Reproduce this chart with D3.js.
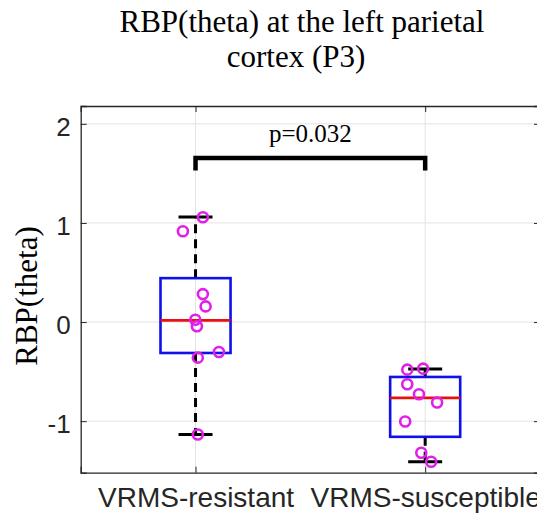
<!DOCTYPE html>
<html>
<head>
<meta charset="utf-8">
<script src="https://cdn.jsdelivr.net/npm/d3@7"></script>
<style>
  body { margin: 0; background: #fff; }
  svg { display: block; }
</style>
</head>
<body>
<script>
// groups and box statistics
const groups = ["VRMS-resistant", "VRMS-susceptible"];
const q1 = [-0.312, -1.158];
const median = [0.017, -0.765];
const q3 = [0.443, -0.554];
const whiskerLow = [-1.134, -1.41];
const whiskerHigh = [1.06, -0.473];

// individual subjects (value, x jitter around group)
const resistantValues = [1.057, 0.916, 0.282, 0.158, 0.024, -0.043, -0.302, -0.359, -1.134];
const resistantJitter = [0.032, -0.055, 0.032, 0.044, -0.001, 0.006, 0.102, 0.010, 0.010];
const susceptibleValues = [-0.480, -0.470, -0.627, -0.728, -0.812, -1.003, -1.319, -1.41];
const susceptibleJitter = [-0.078, -0.009, -0.078, -0.027, 0.052, -0.087, -0.017, 0.026];

const yTicks = [-1, 0, 1, 2];
const pLabel = "p=0.032";
const bracketTop = 1.655, bracketEnd = 1.53;

const W = 537, H = 515;
const x = d3.scaleLinear().domain([0.5, 2.5]).range([80.7, 540]);
const y = d3.scaleLinear().domain([-1.52, 2.18]).range([472.7, 106]);

const svg = d3.select('body').append('svg')
    .attr('width', W)
    .attr('height', H);

// grid
svg.append('g').selectAll('line')
    .data(yTicks)
    .enter().append('line')
    .attr('x1', x(0.5)).attr('x2', x(2.5))
    .attr('y1', d => y(d)).attr('y2', d => y(d))
    .attr('stroke', '#e3e3e3').attr('stroke-width', 1);
svg.append('g').selectAll('line')
    .data([1, 2])
    .enter().append('line')
    .attr('x1', d => x(d)).attr('x2', d => x(d))
    .attr('y1', y.range()[0]).attr('y2', y.range()[1])
    .attr('stroke', '#e3e3e3').attr('stroke-width', 1);

// axes
const yAxis = d3.axisLeft(y).tickValues(yTicks).tickSize(-6).tickPadding(10).tickFormat(d => String(d));
const xAxis = d3.axisBottom(x).tickValues([1, 2]).tickSize(-6).tickPadding(14)
    .tickFormat(d => groups[d - 1]);

const yAxisGroup = svg.append('g')
    .attr('transform', `translate(${x(0.5)},0)`)
    .call(yAxis);
const xAxisGroup = svg.append('g')
    .attr('transform', `translate(0,${y(-1.52)})`)
    .call(xAxis);
svg.append('g')
    .attr('transform', `translate(0,${y(2.18)})`)
    .call(d3.axisTop(x).tickValues([1, 2]).tickSize(-6).tickFormat(''));
svg.append('g')
    .attr('transform', `translate(${x(2.5)},0)`)
    .call(d3.axisRight(y).tickValues(yTicks).tickSize(-6).tickFormat(''));

svg.selectAll('.domain').attr('stroke', '#262626').attr('stroke-width', 1.3);
svg.selectAll('.tick line').attr('stroke', '#262626');
yAxisGroup.selectAll('text')
    .attr('font-family', 'Liberation Sans, Arial, sans-serif')
    .attr('font-size', 26).attr('fill', '#262626').attr('dy', '0.45em');
xAxisGroup.selectAll('text')
    .attr('font-family', 'Liberation Sans, Arial, sans-serif')
    .attr('font-size', 28).attr('fill', '#262626');

// boxes
const idx = [0, 1];
const boxW = 0.305, capW = 0.148;
const boxes = svg.append('g');
// whiskers
boxes.selectAll('.wl').data(idx).enter().append('line')
    .attr('x1', i => x(i + 1)).attr('x2', i => x(i + 1))
    .attr('y1', i => y(q1[i])).attr('y2', i => y(whiskerLow[i]))
    .attr('stroke', '#000').attr('stroke-width', 3).attr('stroke-dasharray', '9,6');
boxes.selectAll('.wh').data(idx).enter().append('line')
    .attr('x1', i => x(i + 1)).attr('x2', i => x(i + 1))
    .attr('y1', i => y(q3[i])).attr('y2', i => y(whiskerHigh[i]))
    .attr('stroke', '#000').attr('stroke-width', 3).attr('stroke-dasharray', '9,6');
// caps
[whiskerLow, whiskerHigh].forEach(arr => {
    boxes.append('g').selectAll('line').data(idx).enter().append('line')
        .attr('x1', i => x(i + 1 - capW / 2)).attr('x2', i => x(i + 1 + capW / 2))
        .attr('y1', i => y(arr[i])).attr('y2', i => y(arr[i]))
        .attr('stroke', '#000').attr('stroke-width', 3);
});
boxes.selectAll('rect').data(idx).enter().append('rect')
    .attr('x', i => x(i + 1 - boxW / 2))
    .attr('width', x(1 + boxW / 2) - x(1 - boxW / 2))
    .attr('y', i => y(q3[i]))
    .attr('height', i => y(q1[i]) - y(q3[i]))
    .attr('fill', 'none').attr('stroke', '#1010e8').attr('stroke-width', 2.6);
boxes.append('g').selectAll('line').data(idx).enter().append('line')
    .attr('x1', i => x(i + 1 - boxW / 2)).attr('x2', i => x(i + 1 + boxW / 2))
    .attr('y1', i => y(median[i])).attr('y2', i => y(median[i]))
    .attr('stroke', '#e81010').attr('stroke-width', 2.6);

// points
const pts = resistantValues.map((v, i) => ({g: 1, v: v, j: resistantJitter[i]}))
    .concat(susceptibleValues.map((v, i) => ({g: 2, v: v, j: susceptibleJitter[i]})));
svg.append('g').selectAll('circle').data(pts).enter().append('circle')
    .attr('cx', d => x(d.g + d.j))
    .attr('cy', d => y(d.v))
    .attr('r', 5)
    .attr('fill', 'none').attr('stroke', '#e020e8').attr('stroke-width', 2.6);

// significance bracket
svg.append('path')
    .attr('d', `M${x(1)},${y(bracketEnd)} L${x(1)},${y(bracketTop)} L${x(2)},${y(bracketTop)} L${x(2)},${y(bracketEnd)}`)
    .attr('fill', 'none').attr('stroke', '#000').attr('stroke-width', 4.5);
svg.append('text')
    .attr('x', (x(1) + x(2)) / 2).attr('y', 141.5)
    .attr('text-anchor', 'middle')
    .attr('font-family', 'Liberation Serif, Times New Roman, serif')
    .attr('font-size', 25).text(pLabel);

// labels
svg.append('text')
    .attr('transform', 'translate(37,296) rotate(-90)')
    .attr('text-anchor', 'middle')
    .attr('font-family', 'Liberation Serif, Times New Roman, serif')
    .attr('font-size', 31).text('RBP(theta)');

const title = svg.append('text')
    .attr('text-anchor', 'middle')
    .attr('font-family', 'Liberation Serif, Times New Roman, serif')
    .attr('font-size', 31);
title.append('tspan').attr('x', 302).attr('y', 32).text('RBP(theta) at the left parietal');
title.append('tspan').attr('x', 296).attr('y', 67).text('cortex (P3)');
</script>
</body>
</html>
